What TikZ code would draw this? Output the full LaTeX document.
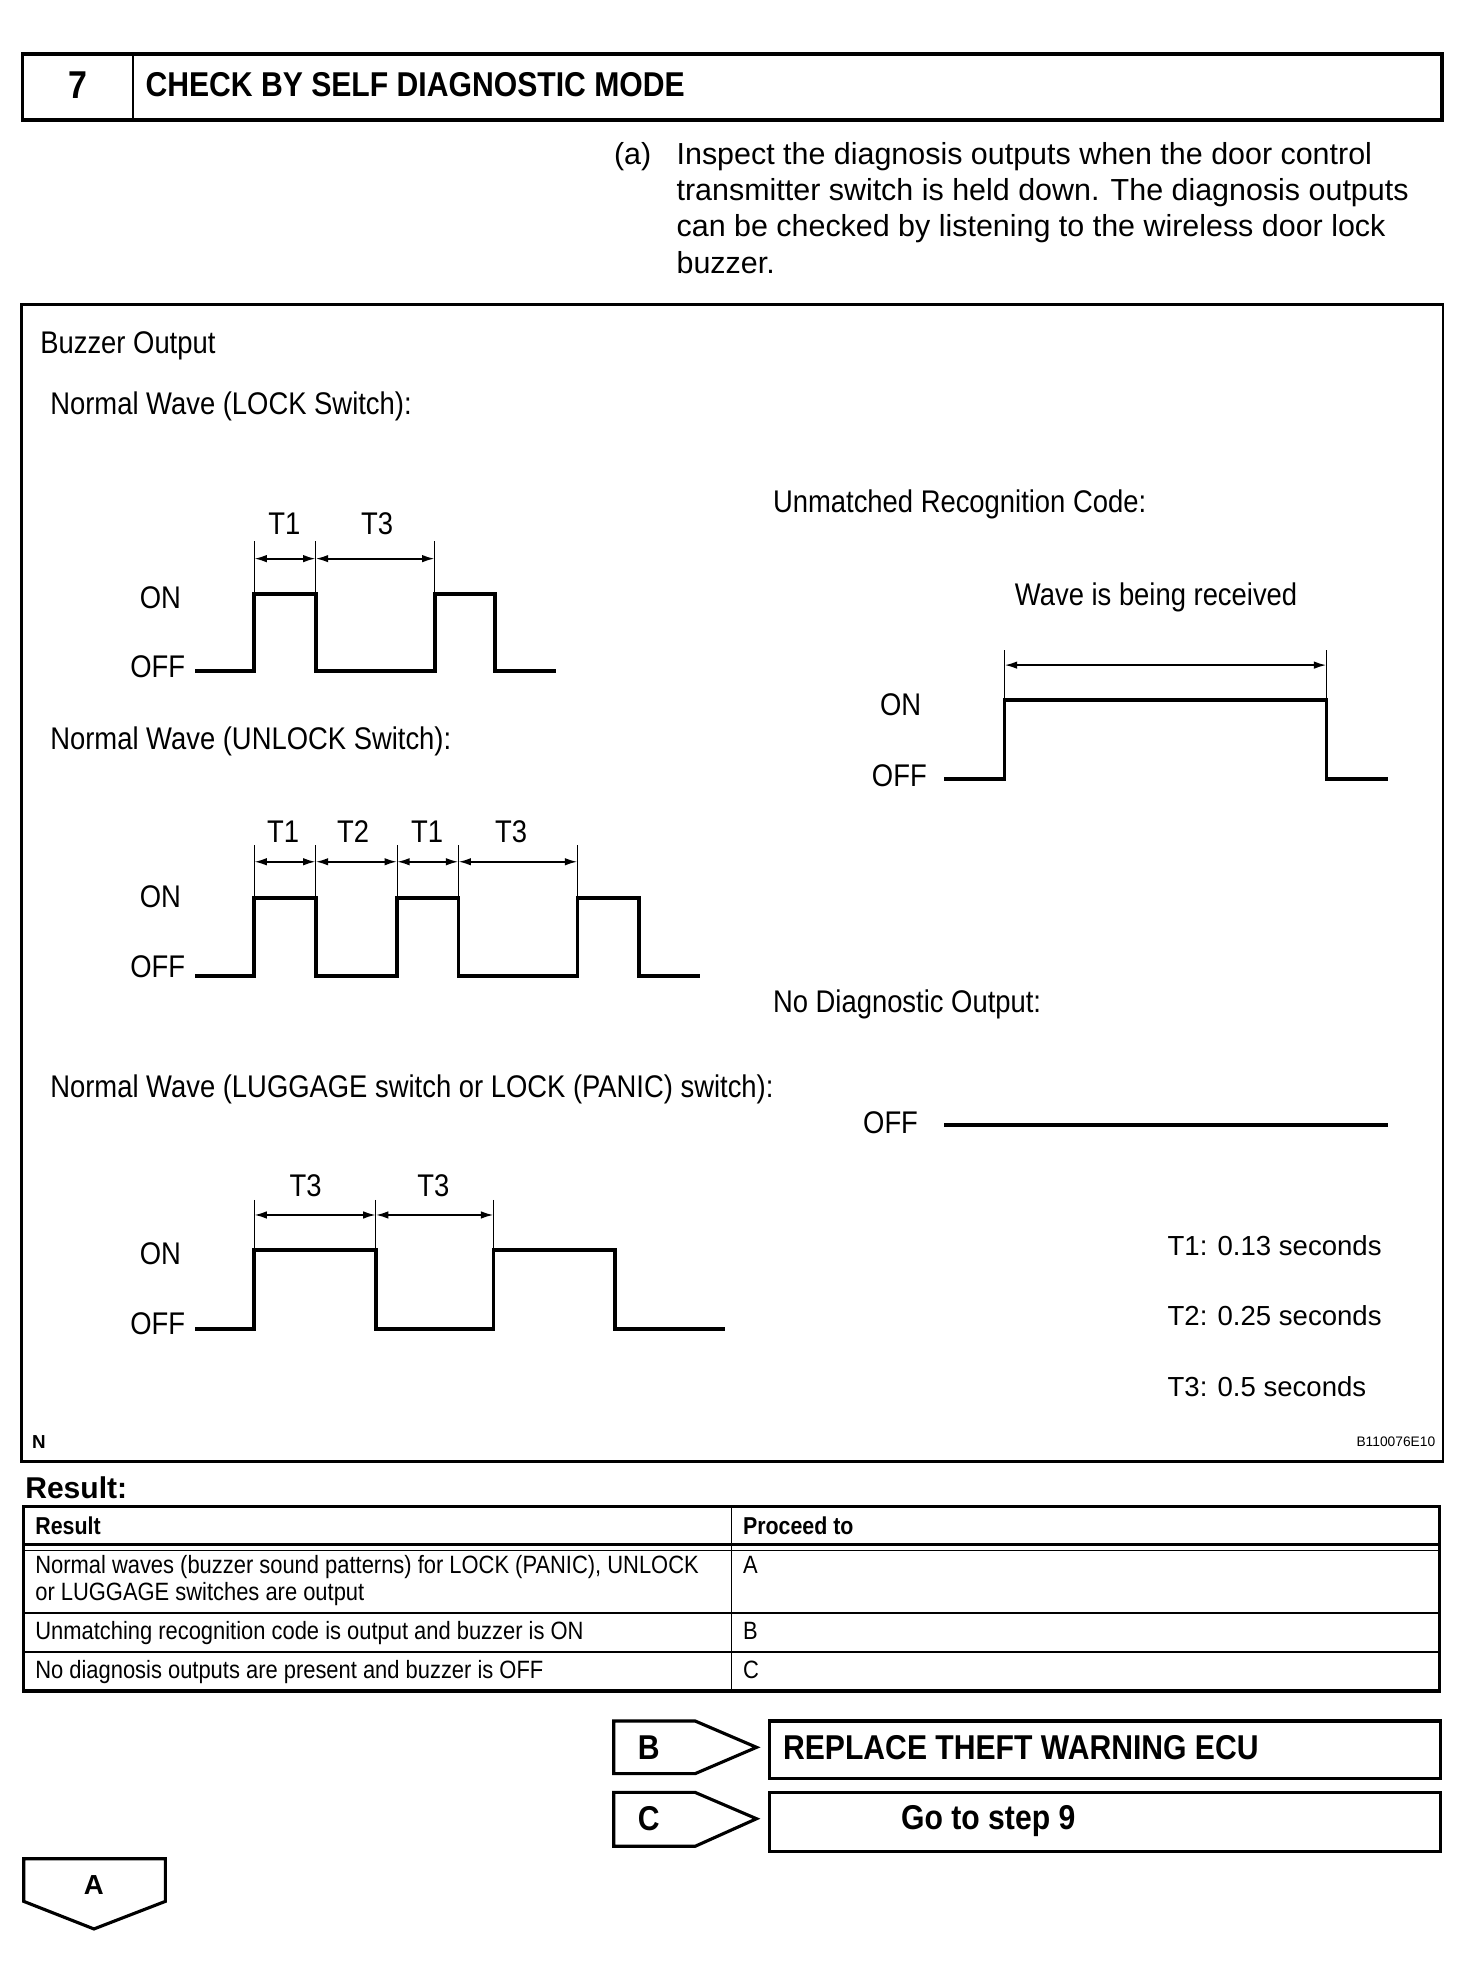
\documentclass[tikz,border=0pt]{standalone}
\usepackage{fontspec}
\setmainfont{Liberation Sans}
\newfontfamily\cond[FakeStretch=0.875]{Liberation Sans}
\usetikzlibrary{arrows.meta}
\begin{document}
\begin{tikzpicture}[x=1pt,y=-1pt,
  wave/.style={line width=3pt, line join=miter, line cap=butt},
  tickln/.style={line width=0.9pt},
  dimln/.style={line width=1.5pt, {Latex[length=10pt,width=6pt]}-{Latex[length=10pt,width=6pt]}},
  dtxt/.style={font=\cond\fontsize{25}{30}\selectfont, inner sep=0pt},
  ptxt/.style={font=\fontsize{24.3}{29}\selectfont, inner sep=0pt, anchor=base west},
  ttxt/.style={font=\cond\fontsize{20}{24}\selectfont, inner sep=0pt, anchor=base west},
  thd/.style={font=\cond\bfseries\fontsize{19.5}{24}\selectfont, inner sep=0pt, anchor=base west},
  btxt/.style={font=\cond\bfseries\fontsize{27.5}{30}\selectfont, inner sep=0pt},
  vtxt/.style={font=\fontsize{22}{26}\selectfont, inner sep=0pt, anchor=base west},
  boxln/.style={line width=2.5pt, line join=miter}
]
\useasboundingbox (0,0) rectangle (1175,1568);

% header
\draw[line width=3pt] (18,43) rectangle (1151,96);
\draw[line width=1.5pt] (106,43) -- (106,96);
\node[btxt, font=\cond\bfseries\fontsize{31}{34}\selectfont] (num) at (62,68) {7};
\node[btxt, anchor=base west] (title) at (116,77) {CHECK BY SELF DIAGNOSTIC MODE};

% paragraph
\node[ptxt] (pa) at (490,131) {(a)};
\node[ptxt] (p1) at (540,131) {Inspect the diagnosis outputs when the door control};
\node[ptxt] (p2) at (540,160) {transmitter switch is held down. The diagnosis outputs};
\node[ptxt] (p3) at (540,189) {can be checked by listening to the wireless door lock};
\node[ptxt] (p4) at (540,218) {buzzer.};

% diagram frame
\draw[line width=2pt] (17,243) rectangle (1152,1167);
\node[dtxt, anchor=base west] (bo) at (32,282) {Buzzer Output};

% wave 1 (LOCK)
\node[dtxt, anchor=base west] (w1t) at (40,331) {Normal Wave (LOCK Switch):};
\node[dtxt] (w1a) at (227,418) {T1};
\node[dtxt] (w1b) at (301,418) {T3};
\node[dtxt] (w1on) at (128,477) {ON};
\node[dtxt] (w1off) at (126,532) {OFF};
\foreach \x in {203,252,347} \draw[tickln] (\x,432) -- (\x,474);
\draw[dimln] (203,446) -- (252,446);
\draw[dimln] (252,446) -- (347,446);
\draw[wave] (156,536) -- (203,536) -- (203,474) -- (252,474) -- (252,536) -- (347,536) -- (347,474) -- (395,474) -- (395,536) -- (444,536);

% wave 2 (UNLOCK)
\node[dtxt, anchor=base west] (w2t) at (40,598) {Normal Wave (UNLOCK Switch):};
\node[dtxt] (w2a) at (226,664) {T1};
\node[dtxt] (w2b) at (282,664) {T2};
\node[dtxt] (w2c) at (341,664) {T1};
\node[dtxt] (w2d) at (408,664) {T3};
\node[dtxt] (w2on) at (128,716) {ON};
\node[dtxt] (w2off) at (126,772) {OFF};
\foreach \x in {203,252,317,366,461} \draw[tickln] (\x,675) -- (\x,717);
\draw[dimln] (203,688) -- (252,688);
\draw[dimln] (252,688) -- (317,688);
\draw[dimln] (317,688) -- (366,688);
\draw[dimln] (366,688) -- (461,688);
\draw[wave] (156,779) -- (203,779) -- (203,717) -- (252,717) -- (252,779) -- (317,779) -- (317,717) -- (366,717) -- (366,779) -- (461,779) -- (461,717) -- (510,717) -- (510,779) -- (559,779);

% wave 3 (LUGGAGE / PANIC)
\node[dtxt, anchor=base west] (w3t) at (40,876) {Normal Wave (LUGGAGE switch or LOCK (PANIC) switch):};
\node[dtxt] (w3a) at (244,947) {T3};
\node[dtxt] (w3b) at (346,947) {T3};
\node[dtxt] (w3on) at (128,1001) {ON};
\node[dtxt] (w3off) at (126,1057) {OFF};
\foreach \x in {203,300,394} \draw[tickln] (\x,958) -- (\x,998);
\draw[dimln] (203,970) -- (300,970);
\draw[dimln] (300,970) -- (394,970);
\draw[wave] (156,1061) -- (203,1061) -- (203,998) -- (300,998) -- (300,1061) -- (394,1061) -- (394,998) -- (491,998) -- (491,1061) -- (579,1061);

% unmatched recognition code
\node[dtxt, anchor=base west] (ut) at (617,409) {Unmatched Recognition Code:};
\node[dtxt] (ur) at (923,477) {Wave is being received};
\node[dtxt] (uon) at (719,563) {ON};
\node[dtxt] (uoff) at (718,619) {OFF};
\foreach \x in {802,1059} \draw[tickln] (\x,519) -- (\x,559);
\draw[dimln] (802,531) -- (1059,531);
\draw[wave] (754,622) -- (802,622) -- (802,559) -- (1059,559) -- (1059,622) -- (1108,622);

% no diagnostic output
\node[dtxt, anchor=base west] (nt) at (617,808) {No Diagnostic Output:};
\node[dtxt] (noff) at (711,896) {OFF};
\draw[wave] (754,898) -- (1108,898);

% times
\node[vtxt] (t1) at (932,1002) {T1: 0.13 seconds};
\node[vtxt] (t2) at (932,1058) {T2: 0.25 seconds};
\node[vtxt] (t3) at (932,1115) {T3: 0.5 seconds};
\node[font=\bfseries\fontsize{15}{18}\selectfont, inner sep=0pt] (nn) at (31,1151) {N};
\node[font=\fontsize{11}{13}\selectfont, inner sep=0pt, anchor=east] (code) at (1146,1151) {B110076E10};

% result table
\node[font=\bfseries\fontsize{24}{28}\selectfont, inner sep=0pt, anchor=base west] (res) at (20,1196) {Result:};
\draw[line width=2.5pt] (19,1203) rectangle (1149,1350);
\draw[line width=2pt] (19,1233) -- (1149,1233);
\draw[line width=1pt] (19,1238) -- (1149,1238);
\draw[line width=1.8pt] (19,1288) -- (1149,1288);
\draw[line width=1.3pt] (19,1319) -- (1149,1319);
\draw[line width=1.3pt] (584,1203) -- (584,1350);
\node[thd] (h1) at (28,1225) {Result};
\node[thd] (h2) at (593,1225) {Proceed to};
\node[ttxt] (r1a) at (28,1256) {Normal waves (buzzer sound patterns) for LOCK (PANIC), UNLOCK};
\node[ttxt] (r1b) at (28,1278) {or LUGGAGE switches are output};
\node[ttxt] (r1c) at (593,1256) {A};
\node[ttxt] (r2a) at (28,1309) {Unmatching recognition code is output and buzzer is ON};
\node[ttxt] (r2c) at (593,1309) {B};
\node[ttxt] (r3a) at (28,1340) {No diagnosis outputs are present and buzzer is OFF};
\node[ttxt] (r3c) at (593,1340) {C};

% B / C branches
\draw[boxln] (490,1374) -- (555,1374) -- (604,1395) -- (555,1416) -- (490,1416) -- cycle;
\node[btxt] (tb) at (518,1395) {B};
\draw[boxln] (614,1374) rectangle (1150,1420);
\node[btxt, anchor=base west] (rep) at (625,1405) {REPLACE THEFT WARNING ECU};

\draw[boxln] (490,1431) -- (555,1431) -- (604,1452) -- (555,1474) -- (490,1474) -- cycle;
\node[btxt] (tc) at (518,1452) {C};
\draw[boxln] (614,1431) rectangle (1150,1478);
\node[btxt] (go) at (789,1454) {Go to step 9};

% A tag
\draw[boxln] (19,1484) -- (132,1484) -- (132,1518) -- (75,1540) -- (19,1518) -- cycle;
\node[font=\bfseries\fontsize{22}{26}\selectfont, inner sep=0pt] (ta) at (75,1505) {A};
\end{tikzpicture}
\end{document}
